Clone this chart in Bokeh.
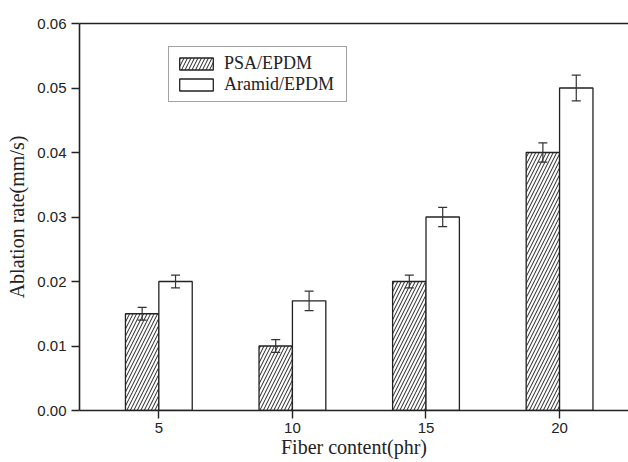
from bokeh.plotting import figure
from bokeh.models import (ColumnDataSource, Range1d, LinearAxis, FixedTicker, Whisker,
                          TeeHead, Legend, LegendItem, CustomJSTickFormatter)
from bokeh.embed import file_html
from bokeh.resources import INLINE

# ---- data ----
fiber_content = [5, 10, 15, 20]
psa_rate = [0.015, 0.010, 0.020, 0.040]
psa_err = [0.001, 0.001, 0.001, 0.0015]
aramid_rate = [0.020, 0.017, 0.030, 0.050]
aramid_err = [0.001, 0.0015, 0.0015, 0.002]
y_ticks = [0.0, 0.01, 0.02, 0.03, 0.04, 0.05, 0.06]

bar_w = 1.25
psa_x = [c - bar_w / 2 for c in fiber_content]
ar_x = [c + bar_w / 2 for c in fiber_content]

psa_src = ColumnDataSource(dict(x=psa_x, top=psa_rate,
                                upper=[v + e for v, e in zip(psa_rate, psa_err)],
                                lower=[v - e for v, e in zip(psa_rate, psa_err)]))
ar_src = ColumnDataSource(dict(x=ar_x, top=aramid_rate,
                               upper=[v + e for v, e in zip(aramid_rate, aramid_err)],
                               lower=[v - e for v, e in zip(aramid_rate, aramid_err)]))

p = figure(width=628, height=462, output_backend="svg", toolbar_location=None,
           x_range=Range1d(2.03, 22.58), y_range=Range1d(0, 0.06),
           min_border_left=79, min_border_top=23, min_border_bottom=52, min_border_right=0)
p.outline_line_color = None
p.xgrid.visible = False
p.ygrid.visible = False
p.background_fill_color = "white"
p.border_fill_color = "white"

r_psa = p.vbar(x="x", top="top", width=bar_w, bottom=0, source=psa_src,
               fill_color="white", line_color="#222222", line_width=1.3,
               hatch_pattern="/", hatch_color="#222222", hatch_scale=7, hatch_weight=1.0)
r_ar = p.vbar(x="x", top="top", width=bar_w, bottom=0, source=ar_src,
              fill_color="white", line_color="#222222", line_width=1.3)

for src in (psa_src, ar_src):
    w = Whisker(source=src, base="x", upper="upper", lower="lower", level="overlay",
                line_color="#333333", line_width=1.2,
                upper_head=TeeHead(size=9, line_color="#333333", line_width=1.2),
                lower_head=TeeHead(size=9, line_color="#333333", line_width=1.2))
    p.add_layout(w)

tick_font = "Liberation Sans"
label_font = "Liberation Serif"

xa = p.xaxis[0]
xa.ticker = FixedTicker(ticks=fiber_content)
xa.axis_label = "Fiber content(phr)"
ya = p.yaxis[0]
ya.ticker = FixedTicker(ticks=y_ticks)
ya.axis_label = "Ablation rate(mm/s)"
ya.formatter = CustomJSTickFormatter(code="return tick.toFixed(2);")

for ax in (xa, ya):
    ax.axis_line_color = "#222222"
    ax.axis_line_width = 1.6
    ax.major_tick_line_color = "#222222"
    ax.major_tick_line_width = 1.4
    ax.major_tick_in = 0
    ax.major_tick_out = 8
    ax.minor_tick_line_color = None
    ax.major_label_text_font = tick_font
    ax.major_label_text_font_size = "15px"
    ax.major_label_text_color = "#222222"
    ax.axis_label_text_font = label_font
    ax.axis_label_text_font_size = "20px"
    ax.axis_label_text_font_style = "normal"
    ax.axis_label_text_color = "#222222"
xa.major_label_standoff = 4
ya.major_label_standoff = 5
xa.axis_label_standoff = 0
ya.axis_label_standoff = 6

top_ax = LinearAxis(axis_line_color="#222222", axis_line_width=1.6,
                    major_tick_line_color=None, minor_tick_line_color=None,
                    major_label_text_font_size="0px", major_label_standoff=0)
top_ax.ticker = FixedTicker(ticks=[])
p.add_layout(top_ax, "above")

legend = Legend(items=[LegendItem(label="PSA/EPDM", renderers=[r_psa]),
                       LegendItem(label="Aramid/EPDM", renderers=[r_ar])],
                location=(89, 308), orientation="vertical",
                glyph_width=42, glyph_height=15, label_standoff=7, label_width=116,
                spacing=0, padding=6, margin=0,
                label_text_font=label_font, label_text_font_size="18px",
                label_text_line_height=1.0,
                label_text_color="#222222",
                border_line_color="#444444", border_line_width=1,
                background_fill_alpha=1)
p.add_layout(legend, "center")

open("out.html", "w").write(file_html(p, INLINE))
